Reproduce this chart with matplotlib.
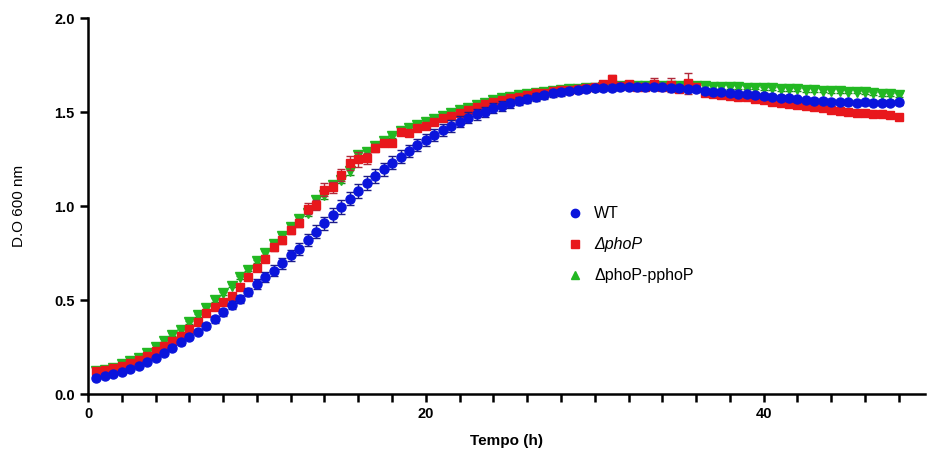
import matplotlib.pyplot as plt
from matplotlib.lines import Line2D
from matplotlib.ticker import MultipleLocator
import numpy as np

plt.rcParams['font.family'] = ['Liberation Sans', 'DejaVu Sans']

# sampling times (h), every 30 min
tempo = np.arange(0.5, 48.5, 0.5)

wt = [0.085, 0.096, 0.105, 0.116, 0.132, 0.150, 0.172, 0.194, 0.220, 0.246,
      0.275, 0.304, 0.332, 0.363, 0.398, 0.435, 0.473, 0.505, 0.544, 0.585,
      0.622, 0.656, 0.695, 0.737, 0.772, 0.819, 0.863, 0.909, 0.952, 0.996,
      1.039, 1.081, 1.121, 1.160, 1.196, 1.230, 1.262, 1.294, 1.326,
      1.351, 1.378, 1.404, 1.426, 1.449, 1.470, 1.488, 1.502, 1.520, 1.532,
      1.546, 1.559, 1.569, 1.580, 1.589, 1.599, 1.605, 1.612, 1.617, 1.622, 1.626,
      1.628, 1.630, 1.632, 1.633, 1.633, 1.633, 1.632, 1.631, 1.629, 1.627,
      1.624, 1.620, 1.612, 1.608, 1.604, 1.600, 1.598, 1.594,
      1.590, 1.585, 1.582, 1.576, 1.573, 1.567, 1.564, 1.560, 1.559, 1.555,
      1.552, 1.552, 1.550, 1.551, 1.550, 1.549, 1.550, 1.551]
wt_sd = [0.005, 0.005, 0.006, 0.006, 0.007, 0.008, 0.009, 0.010, 0.011, 0.012,
         0.013, 0.014, 0.015, 0.016, 0.018, 0.019, 0.020, 0.021, 0.022, 0.025,
         0.027, 0.028, 0.030, 0.031, 0.032, 0.033, 0.034, 0.035, 0.035, 0.036,
         0.036, 0.036, 0.036, 0.035, 0.035, 0.034, 0.034, 0.033, 0.032,
         0.032, 0.031, 0.031, 0.030, 0.030, 0.029, 0.028, 0.027, 0.026, 0.025,
         0.024, 0.023, 0.022, 0.021, 0.020, 0.019, 0.018, 0.018, 0.017, 0.017, 0.016,
         0.016, 0.016, 0.015, 0.015, 0.015, 0.015, 0.015, 0.015, 0.015, 0.015,
         0.015, 0.015, 0.015, 0.014, 0.014, 0.014, 0.014, 0.014,
         0.014, 0.014, 0.014, 0.014, 0.014, 0.014, 0.013, 0.013, 0.013, 0.013,
         0.013, 0.013, 0.013, 0.013, 0.013, 0.013, 0.013, 0.013]

phoP = [0.121, 0.128, 0.136, 0.148, 0.163, 0.180, 0.203, 0.228, 0.255, 0.282,
        0.309, 0.344, 0.385, 0.429, 0.461, 0.488, 0.523, 0.571, 0.621, 0.670,
        0.716, 0.780, 0.817, 0.870, 0.908, 0.986, 1.005, 1.087, 1.099, 1.165,
        1.229, 1.249, 1.253, 1.309, 1.335, 1.336, 1.395, 1.388, 1.413,
        1.426, 1.449, 1.466, 1.480, 1.493, 1.511, 1.528, 1.543, 1.555, 1.564,
        1.573, 1.582, 1.591, 1.599, 1.603, 1.612, 1.616, 1.619, 1.622, 1.629, 1.635,
        1.649, 1.674, 1.638, 1.649, 1.635, 1.635, 1.649, 1.635, 1.644, 1.621,
        1.653, 1.635, 1.599, 1.596, 1.590, 1.585, 1.582, 1.578,
        1.567, 1.564, 1.555, 1.550, 1.543, 1.537, 1.532, 1.528, 1.520, 1.511,
        1.505, 1.502, 1.496, 1.493, 1.492, 1.488, 1.484, 1.475]
phoP_sd = [0.006, 0.006, 0.006, 0.006, 0.007, 0.007, 0.008, 0.008, 0.009, 0.009,
           0.010, 0.010, 0.011, 0.011, 0.012, 0.012, 0.013, 0.014, 0.015, 0.016,
           0.016, 0.017, 0.018, 0.020, 0.022, 0.030, 0.025, 0.035, 0.030, 0.030,
           0.035, 0.040, 0.030, 0.020, 0.018, 0.017, 0.016, 0.015, 0.014,
           0.013, 0.013, 0.012, 0.012, 0.012, 0.011, 0.011, 0.011, 0.010, 0.010,
           0.010, 0.010, 0.010, 0.010, 0.010, 0.010, 0.010, 0.010, 0.010, 0.010, 0.012,
           0.012, 0.025, 0.010, 0.012, 0.010, 0.010, 0.030, 0.010, 0.035, 0.010,
           0.055, 0.010, 0.010, 0.010, 0.010, 0.010, 0.010, 0.010,
           0.008, 0.008, 0.008, 0.008, 0.008, 0.008, 0.008, 0.008, 0.008, 0.008,
           0.008, 0.008, 0.008, 0.008, 0.008, 0.008, 0.008, 0.008]

comp = [0.122, 0.130, 0.140, 0.158, 0.176, 0.193, 0.220, 0.252, 0.282, 0.314,
        0.340, 0.381, 0.420, 0.459, 0.500, 0.535, 0.576, 0.621, 0.662, 0.707,
        0.752, 0.796, 0.840, 0.890, 0.932, 0.965, 1.030, 1.060, 1.110, 1.140,
        1.185, 1.270, 1.285, 1.320, 1.345, 1.370, 1.400, 1.415, 1.430,
        1.445, 1.465, 1.480, 1.495, 1.508, 1.522, 1.537, 1.550, 1.562, 1.572,
        1.580, 1.588, 1.595, 1.601, 1.606, 1.612, 1.616, 1.620, 1.623, 1.627, 1.630,
        1.634, 1.637, 1.638, 1.639, 1.640, 1.640, 1.640, 1.640, 1.640, 1.639,
        1.638, 1.637, 1.636, 1.634, 1.633, 1.632, 1.631, 1.630,
        1.629, 1.626, 1.626, 1.622, 1.622, 1.621, 1.617, 1.617, 1.613, 1.612,
        1.612, 1.608, 1.608, 1.605, 1.599, 1.596, 1.594, 1.590]
comp_sd = [0.006, 0.006, 0.006, 0.006, 0.006, 0.006, 0.006, 0.006, 0.008, 0.008,
           0.008, 0.008, 0.008, 0.008, 0.008, 0.008, 0.008, 0.008, 0.008, 0.008,
           0.010, 0.010, 0.012, 0.012, 0.015, 0.020, 0.020, 0.022, 0.020, 0.020,
           0.018, 0.015, 0.012, 0.012, 0.010, 0.010, 0.010, 0.010, 0.010,
           0.010, 0.010, 0.010, 0.010, 0.010, 0.010, 0.010, 0.010, 0.010, 0.010,
           0.010, 0.010, 0.010, 0.010, 0.010, 0.010, 0.010, 0.010, 0.010, 0.010, 0.010,
           0.010, 0.010, 0.010, 0.010, 0.010, 0.010, 0.010, 0.010, 0.010, 0.010,
           0.010, 0.010, 0.010, 0.010, 0.010, 0.010, 0.010, 0.010,
           0.009, 0.009, 0.009, 0.009, 0.009, 0.009, 0.009, 0.009, 0.009, 0.009,
           0.009, 0.009, 0.009, 0.009, 0.009, 0.009, 0.009, 0.009]

labels = ['WT', 'ΔphoP', 'ΔphoP-pphoP']

fig = plt.figure(figsize=(9.3, 4.53), dpi=100)
ax = fig.add_axes([88/930, 1 - 394/453, 837/930, 376/453])

# drawn green first so red, then blue sit on top
ax.errorbar(tempo, comp, yerr=comp_sd, fmt='v', color='#22b822', ms=6.5,
            ecolor='#1f8a1f', elinewidth=1, capsize=3, zorder=2)
ax.errorbar(tempo, phoP, yerr=phoP_sd, fmt='s', color='#e8171c', ms=6,
            ecolor='#b02a3a', elinewidth=1, capsize=3, zorder=3)
ax.errorbar(tempo, wt, yerr=wt_sd, fmt='o', color='#0a14dc', ms=6.5,
            ecolor='#1c1c8a', elinewidth=1, capsize=3, zorder=4)

ax.set_xlim(0, 49.55)
ax.set_ylim(0, 2.0)
ax.xaxis.set_major_locator(MultipleLocator(20))
ax.xaxis.set_minor_locator(MultipleLocator(2))
ax.yaxis.set_major_locator(MultipleLocator(0.5))
ax.yaxis.set_major_formatter(plt.FormatStrFormatter('%.1f'))

for s in ['top', 'right']:
    ax.spines[s].set_visible(False)
for s in ['left', 'bottom']:
    ax.spines[s].set_linewidth(1.8)
ax.tick_params(which='both', direction='out', length=5.5, width=1.8, pad=4)
for lab in ax.get_xticklabels() + ax.get_yticklabels():
    lab.set_fontweight('bold')
    lab.set_fontsize(10.5)

ax.set_xlabel('Tempo (h)', fontsize=11, fontweight='bold', labelpad=9)
ax.set_ylabel('D.O 600 nm', fontsize=11, labelpad=20)

handles = [Line2D([], [], ls='', marker='o', color='#0a14dc', ms=6),
           Line2D([], [], ls='', marker='s', color='#e8171c', ms=5.5),
           Line2D([], [], ls='', marker='^', color='#22b822', ms=5.5)]
leg = ax.legend(handles, labels, loc='upper left', bbox_to_anchor=(551/930, 1 - 192/453),
                bbox_transform=fig.transFigure, frameon=False, fontsize=11.5,
                handletextpad=0.6, labelspacing=1.0, handlelength=1.2)
leg.get_texts()[1].set_style('italic')

fig.savefig('out.png', dpi=100)
